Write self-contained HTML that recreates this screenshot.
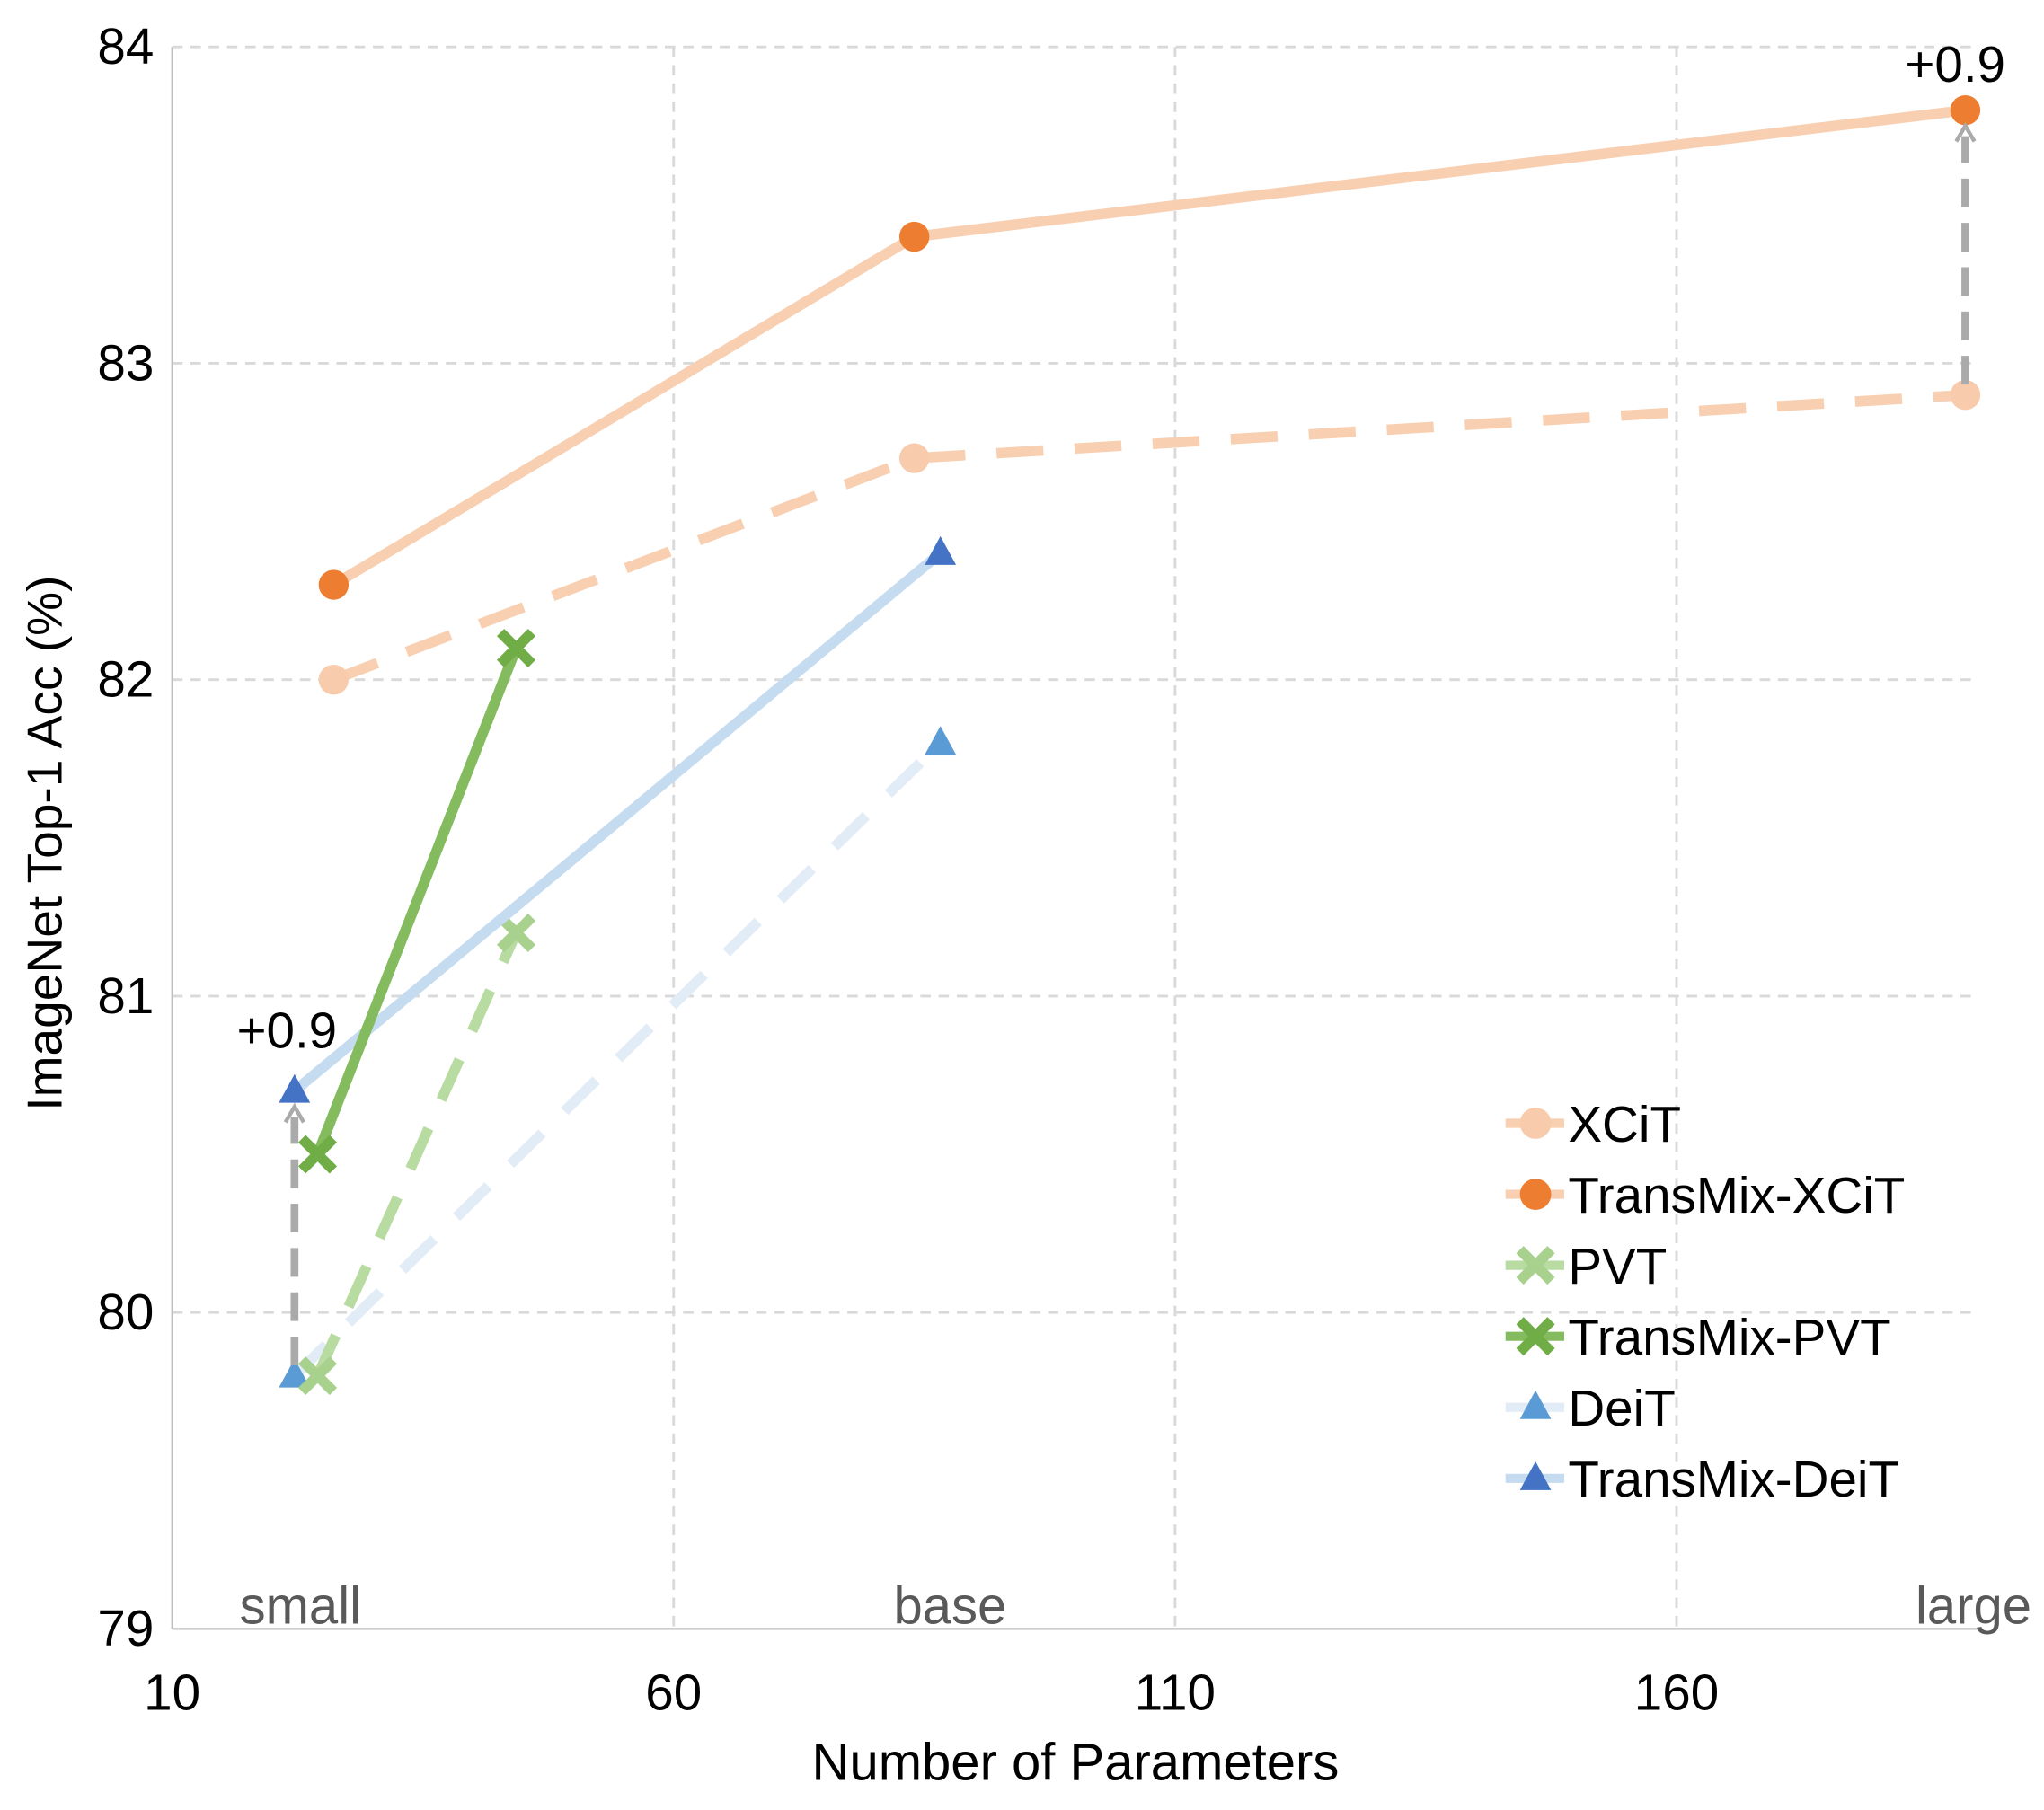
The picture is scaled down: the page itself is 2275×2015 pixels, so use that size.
<!DOCTYPE html>
<html><head><meta charset="utf-8"><style>
html,body{margin:0;padding:0;background:#fff;}
svg{display:block;font-family:"Liberation Sans","DejaVu Sans",sans-serif;}
</style></head><body>
<svg id="chart" width="2275" height="2015" viewBox="0 0 1568 1389" xmlns="http://www.w3.org/2000/svg">
<g id="grid"></g>
<g id="axes"></g>
<g id="series"></g>
<g id="legend"></g>
</svg>
<script>
const xTicks = [10, 60, 110, 160];
const yTicks = [79, 80, 81, 82, 83, 84];
const sizeLabels = ["small", "base", "large"];
const sizeLabelX = [22, 86, 190];
const xcitX = [26.1, 84, 188.8];
const xcitY = [82.0, 82.7, 82.9];
const tmXcitY = [82.3, 83.4, 83.8];
const pvtX = [24.5, 44.3];
const pvtY = [79.8, 81.2];
const tmPvtY = [80.5, 82.1];
const deitX = [22.2, 86.6];
const deitY = [79.8, 81.8];
const tmDeitY = [80.7, 82.4];
const gains = ["+0.9", "+0.9"];

const NS = "http://www.w3.org/2000/svg";
const X0 = 132, X1 = 1517, Y0 = 1250, Y1 = 36;
function sx(v){ return X0 + (v - 10) / 180 * (X1 - X0); }
function sy(v){ return Y0 - (v - 79) / 5 * (Y0 - Y1); }
function mk(parent, tag, attrs, text){
  const e = document.createElementNS(NS, tag);
  for (const k in attrs) e.setAttribute(k, attrs[k]);
  if (text !== undefined) e.textContent = text;
  parent.appendChild(e); return e;
}
const grid = document.getElementById('grid'), axes = document.getElementById('axes'),
      ser = document.getElementById('series'), leg = document.getElementById('legend');

yTicks.forEach(t => {
  if (t > 79) {
    const l = mk(grid, 'line', {x1:X0, x2:X1, y1:sy(t), y2:sy(t), stroke:'#d9d9d9', 'stroke-width':2, 'stroke-dasharray':'8,6'});
    
    
  }
  const tx = mk(axes, 'text', {x:X0-14, y:sy(t)+13, 'text-anchor':'end', 'font-size':39, fill:'#000'}, String(t));
  
  
});
xTicks.forEach(t => {
  if (t > 10) {
    const l = mk(grid, 'line', {x1:sx(t), x2:sx(t), y1:Y1, y2:Y0, stroke:'#d9d9d9', 'stroke-width':2, 'stroke-dasharray':'8,6'});
    
    
  }
  const tx = mk(axes, 'text', {x:sx(t), y:1312, 'text-anchor':'middle', 'font-size':39, fill:'#000'}, String(t));
  
  
});
let a = mk(axes, 'line', {x1:X0, x2:X0, y1:Y1, y2:Y0, stroke:'#bfbfbf', 'stroke-width':1.5});
 
a = mk(axes, 'line', {x1:X0, x2:X1, y1:Y0, y2:Y0, stroke:'#bfbfbf', 'stroke-width':1.5});
 
sizeLabels.forEach((s, i) => {
  const tx = mk(axes, 'text', {x:Math.min(sx(sizeLabelX[i]) + (i===0?6:(i===1?12:0)), 1514), y:1246, 'text-anchor':'middle', 'font-size':40, fill:'#595959'}, s);
  
  
});
a = mk(axes, 'text', {x:825, y:1366, 'text-anchor':'middle', 'font-size':40, fill:'#000'}, 'Number of Parameters');
 
a = mk(axes, 'text', {x:0, y:0, transform:'translate(47,647) rotate(-90)', 'text-anchor':'middle', 'font-size':38, fill:'#000'}, 'ImageNet Top-1 Acc (%)');
 

function marker(g, type, x, y, color, r){
  let e;
  if (type === 'circle') e = mk(g, 'circle', {cx:x, cy:y, r:r||11.5, fill:color});
  else if (type === 'tri') e = mk(g, 'polygon', {points:`${x},${y-13} ${x-12},${y+9} ${x+12},${y+9}`, fill:color});
  else e = mk(g, 'path', {d:`M${x-12},${y-12}L${x+12},${y+12}M${x+12},${y-12}L${x-12},${y+12}`, stroke:color, 'stroke-width':8});
  return e;
}
function series(name, xs, ys, lineColor, dash, width, mtype, mcolor){
  const g = mk(ser, 'g', {});
  
  
  const pts = xs.map((x, i) => sx(x) + ',' + sy(ys[i])).join(' ');
  const pl = mk(g, 'polyline', {points:pts, fill:'none', stroke:lineColor, 'stroke-width':width, 'stroke-dasharray':dash||'none'});
  
  
  xs.forEach((x, i) => {
    const m = marker(g, mtype, sx(x), sy(ys[i]), mcolor);
    
    
  });
}
series('deit', deitX, deitY, '#e2ecf7', '34,24', 8, 'tri', '#5b9bd5');
series('pvt', pvtX, pvtY, '#b7dba0', '34,24', 8, 'x', '#a9d18e');
series('xcit', xcitX, xcitY, '#f8cfb1', '36,24', 8, 'circle', '#f8cbad');
series('transmix-deit', deitX, tmDeitY, '#c5dbf0', null, 8, 'tri', '#4472c4');
series('transmix-pvt', pvtX, tmPvtY, '#84bb5f', null, 8, 'x', '#70ad47');
series('transmix-xcit', xcitX, tmXcitY, '#f8cfb1', null, 8, 'circle', '#ed7d31');

[[deitX[0], deitY[0], tmDeitY[0], 220, sy(tmDeitY[0]) - 33], [xcitX[2], xcitY[2], tmXcitY[2], 1500, sy(tmXcitY[2]) - 22]].forEach((d, i) => {
  const x = sx(d[0]);
  const l = mk(ser, 'line', {x1:x, x2:x, y1:sy(d[1]) - 8, y2:sy(d[2]) + 20, stroke:'#aaaaaa', 'stroke-width':6, 'stroke-dasharray':'22,12'});
  
  
  const h = mk(ser, 'path', {d:`M${x-7},${sy(d[2])+24}L${x},${sy(d[2])+12}L${x+7},${sy(d[2])+24}`, fill:'none', stroke:'#aaaaaa', 'stroke-width':3});
  
  
  const t = mk(ser, 'text', {x:d[3], y:d[4], 'text-anchor':'middle', 'font-size':39, fill:'#000'}, gains[i]);
  
  
});

const legNames = ['XCiT', 'TransMix-XCiT', 'PVT', 'TransMix-PVT', 'DeiT', 'TransMix-DeiT'];
const legLine = ['#f8cfb1', '#f8cfb1', '#b7dba0', '#84bb5f', '#e2ecf7', '#c5dbf0'];
const legM = ['circle', 'circle', 'x', 'x', 'tri', 'tri'];
const legC = ['#f8cbad', '#ed7d31', '#a9d18e', '#70ad47', '#5b9bd5', '#4472c4'];
legNames.forEach((n, i) => {
  const y = 862 + i * 54.5;
  const g = mk(leg, 'g', {});
  
  
  mk(g, 'line', {x1:1155, x2:1200, y1:y, y2:y, stroke:legLine[i], 'stroke-width':7});
  marker(g, legM[i], 1178, y, legC[i], 12);
  mk(g, 'text', {x:1203, y:y + 14, 'font-size':39, fill:'#000'}, n);
});
</script>
</body></html>
